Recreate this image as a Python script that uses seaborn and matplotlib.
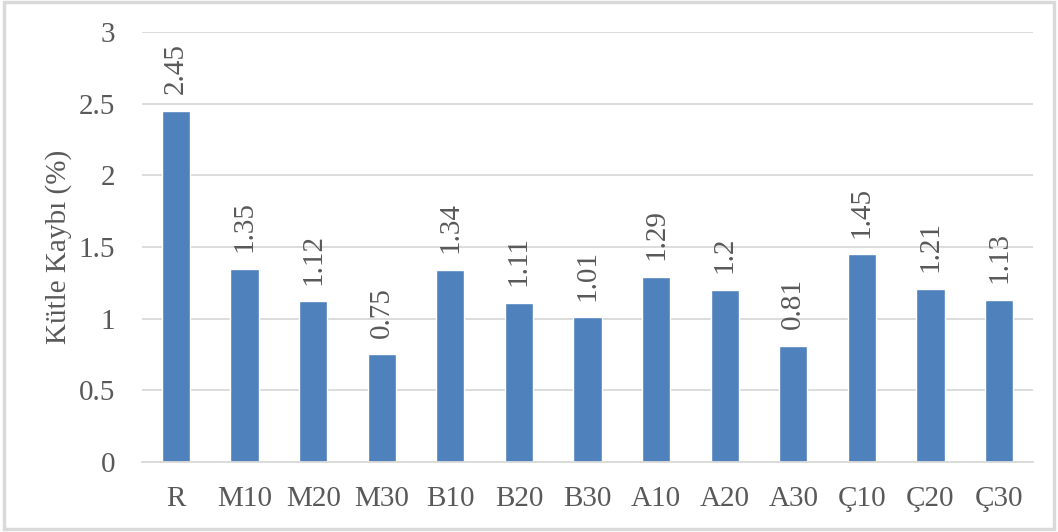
import matplotlib
matplotlib.use("Agg")
import matplotlib.pyplot as plt
import seaborn as sns
import pandas as pd
from matplotlib.patches import Rectangle

categories = ["R", "M10", "M20", "M30", "B10", "B20", "B30",
              "A10", "A20", "A30", "Ç10", "Ç20", "Ç30"]
values = [2.45, 1.35, 1.12, 0.75, 1.34, 1.11, 1.01,
          1.29, 1.2, 0.81, 1.45, 1.21, 1.13]
value_labels = ["2.45", "1.35", "1.12", "0.75", "1.34", "1.11", "1.01",
                "1.29", "1.2", "0.81", "1.45", "1.21", "1.13"]
y_ticks = [0, 0.5, 1, 1.5, 2, 2.5, 3]
y_tick_labels = ["0", "0.5", "1", "1.5", "2", "2.5", "3"]
y_title = "Kütle Kaybı (%)"

sns.set_theme(style="white")
plt.rcParams["font.family"] = ["Liberation Serif", "DejaVu Serif"]

text_color = "#595959"
grid_color = "#D9D9D9"
bar_color = "#4F81BD"
fs = 21

df = pd.DataFrame({"cat": categories, "val": values})

fig = plt.figure(figsize=(10.58, 5.32), dpi=100)
ax = fig.add_axes([0.1339, 0.1316, 0.8428, 0.8082])

sns.barplot(data=df, x="cat", y="val", color=bar_color, width=0.41,
            saturation=1, ax=ax, order=categories)

ax.set_ylim(0, 3)
ax.set_xlim(-0.5, len(categories) - 0.5)
ax.set_yticks(y_ticks)
ax.set_yticklabels(y_tick_labels)
ax.yaxis.grid(True, color=grid_color, linewidth=1.3)
ax.set_axisbelow(True)
for s in ["top", "right", "left"]:
    ax.spines[s].set_visible(False)
ax.spines["bottom"].set_color(grid_color)
ax.spines["bottom"].set_linewidth(1.3)
ax.tick_params(axis="both", length=0, labelsize=fs, colors=text_color)
ax.tick_params(axis="y", pad=19)
ax.tick_params(axis="x", pad=17)
ax.set_xlabel("")
ax.set_ylabel(y_title, fontsize=fs, color=text_color, labelpad=5)

for i, (v, lab) in enumerate(zip(values, value_labels)):
    ax.annotate(lab, (i, v), xytext=(0, 12), textcoords="offset points",
                rotation=90, ha="center", va="bottom", fontsize=fs,
                color=text_color)

fig.patches.append(Rectangle((0.004, 0.006), 0.992, 0.99,
                             transform=fig.transFigure, fill=False,
                             edgecolor=grid_color, linewidth=2.5))

fig.savefig("out.png", dpi=100)
